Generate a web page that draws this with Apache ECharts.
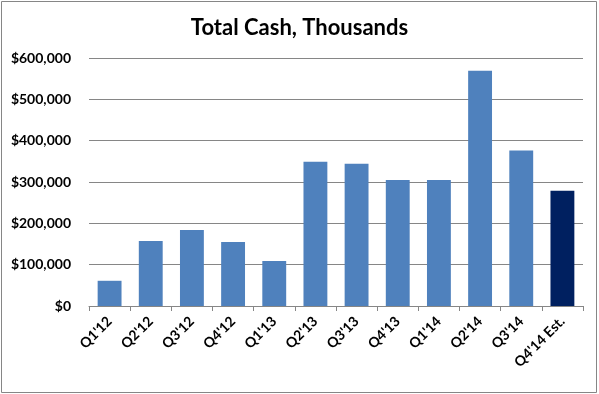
<!DOCTYPE html>
<html><head><meta charset="utf-8">
<script src="https://cdn.jsdelivr.net/npm/echarts@6/dist/echarts.min.js"></script>
<style>html,body{margin:0;padding:0;background:#fff}#c{width:599px;height:394px}</style>
</head><body><div id="c"></div>
<script>
var categories = ["Q1'12","Q2'12","Q3'12","Q4'12","Q1'13","Q2'13","Q3'13","Q4'13","Q1'14","Q2'14","Q3'14","Q4'14 Est."];
var cashValues = [61000,157500,184000,155000,109000,349000,344000,305000,305000,569000,376000,279000];
var barColors = ["#4F81BD","#4F81BD","#4F81BD","#4F81BD","#4F81BD","#4F81BD","#4F81BD","#4F81BD","#4F81BD","#4F81BD","#4F81BD","#002060"];
var titleText = "Total Cash, Thousands";

var chart = echarts.init(document.getElementById('c'), null, {renderer:'canvas'});
var font = "Lato, 'Open Sans', sans-serif";
chart.setOption({
  animation:false,
  backgroundColor:'#fff',
  title:{text:titleText,left:'center',top:12,textStyle:{fontFamily:font,fontSize:22,fontWeight:'bold',color:'#000'}},
  graphic:[{type:'rect',shape:{x:1.5,y:1.5,width:595,height:391},style:{fill:null,stroke:'#868686',lineWidth:1},silent:true}],
  grid:{left:89,right:16,top:58,bottom:88,containLabel:false},
  xAxis:{type:'category',data:categories,
    axisLine:{lineStyle:{color:'#868686'}},
    axisTick:{show:true,length:5,lineStyle:{color:'#868686'}},
    axisLabel:{rotate:45,interval:0,margin:13,color:'#000',fontFamily:font,fontWeight:'bold',fontSize:14}},
  yAxis:{type:'value',min:0,max:600000,interval:100000,
    axisLine:{show:false},axisTick:{show:false},
    splitLine:{lineStyle:{color:'#868686'}},
    axisLabel:{margin:18,color:'#000',fontFamily:font,fontWeight:'bold',fontSize:14,
      formatter:function(v){return '$'+v.toLocaleString('en-US');}}},
  series:[{type:'bar',barCategoryGap:'42%',
    data:cashValues.map(function(v,i){return {value:v,itemStyle:{color:barColors[i]}};})}]
});
</script></body></html>
